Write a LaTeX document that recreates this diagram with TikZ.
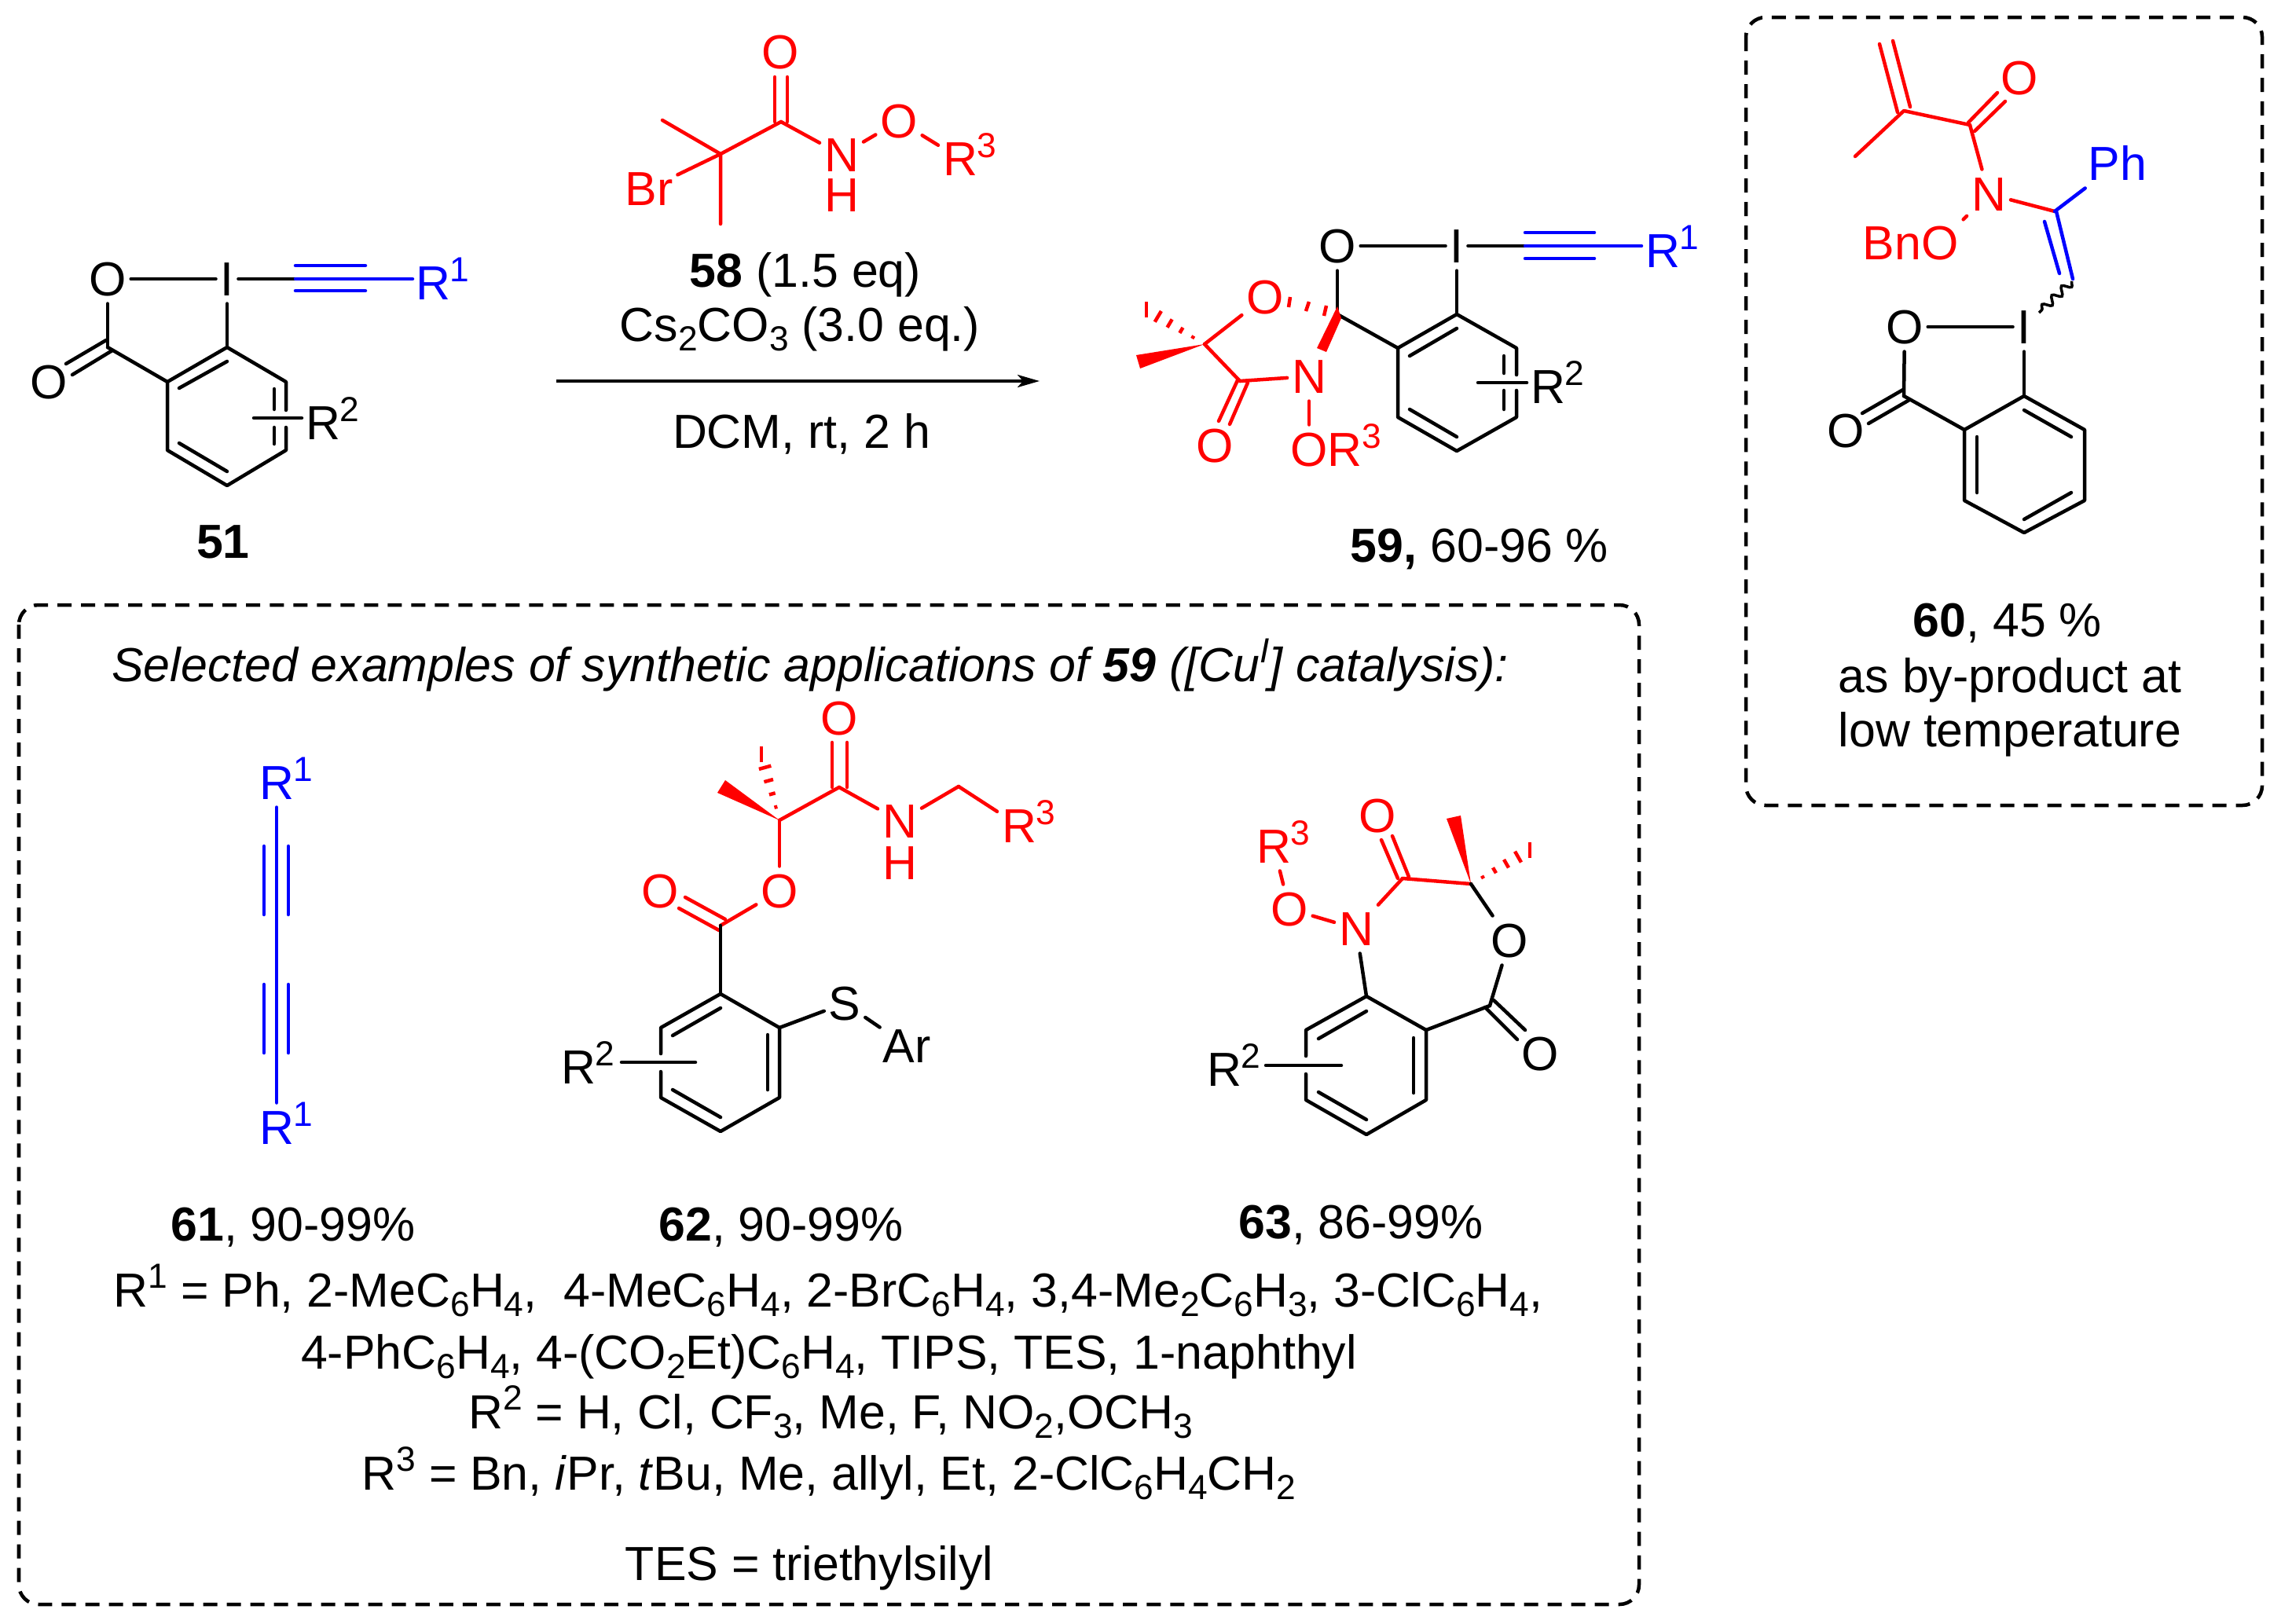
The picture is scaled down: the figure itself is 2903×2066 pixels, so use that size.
\documentclass[tikz,border=0pt]{standalone}
\usepackage{fontspec}
\setmainfont{Liberation Sans}
\usetikzlibrary{calc,arrows.meta,decorations.pathmorphing}
\newcommand\sups[1]{\raisebox{.38em}{\fontsize{12.6}{12.6}\selectfont #1}}
\newcommand\subs[1]{\raisebox{-.2em}{\fontsize{12.6}{12.6}\selectfont #1}}
\newcommand\Rn[1]{R\rlap{\sups{#1}}}
\newcommand\hashb[3]{\foreach \t in {.2,.4,.6,.8,1}{\draw[hashmark] ($(#1)!\t!(#2)!{\t*#3}!90:(#2)$) -- ($(#1)!\t!(#2)!{-\t*#3}!90:(#2)$);}}
\tikzset{
  chemtext/.style={font=\fontsize{17.3}{20}\selectfont},
  atom/.style={chemtext,anchor=center,inner xsep=.06cm,inner ysep=.10cm,text height=.43cm,text depth=0pt,outer sep=0pt},
  lbl/.style={chemtext,anchor=base,inner sep=0pt},
  bond/.style={line width=.045cm,line cap=round,line join=round},
  hashmark/.style={line width=.045cm,red},
  dbox/.style={line width=.045cm,dash pattern=on .18cm off .12cm,rounded corners=.25cm},
}
\begin{document}
\begin{tikzpicture}[x=.01cm,y=-.01cm]
\useasboundingbox (0,0) rectangle (2903,2066);
% boxes
\coordinate (b1a) at (24,770); \coordinate (b1b) at (2086,2042);
\coordinate (b2a) at (2222,22); \coordinate (b2b) at (2879,1025);
\draw[dbox] (b1a) rectangle (b1b);
\draw[dbox] (b2a) rectangle (b2b);

% ---------- 51
\node[atom] (aO) at (137,355) {O};
\node[atom] (aI) at (289,355) {I};
\node[atom] (aO2) at (62,486) {O};
\node[atom,blue] (aR1) at (551,360) {\Rn{1}};
\node[atom] (aR2) at (411,538) {\Rn{2}};
\coordinate (aC) at (137,442); \coordinate (aa) at (213,486); \coordinate (ab) at (289,442);
\coordinate (ac) at (364,486); \coordinate (ad) at (364,573); \coordinate (ae) at (289,618); \coordinate (af) at (213,573);
\coordinate (at) at (376,355); \coordinate (ag1) at (364,522); \coordinate (ag2) at (364,544);
\coordinate (al1) at (323,532); \coordinate (al2) at (384,532);
\draw[bond] (aO) -- (aI);
\draw[bond] (aI) -- (at);
\draw[bond,blue] (at) -- (525,355);
\draw[bond,blue] (376,338) -- (465,338);
\draw[bond,blue] (376,370) -- (465,370);
\draw[bond] (aO) -- (aC);
\draw[bond] (aI) -- (ab);
\draw[bond] (84,463) -- (135,433);
\draw[bond] (92,477) -- (143,446);
\draw[bond] (aC) -- (aa);
\draw[bond] (ag2) -- (ad) -- (ae) -- (af) -- (aa) -- (ab) -- (ac) -- (ag1);
\draw[bond] (228,494) -- (289,460);
\draw[bond] (349,495) -- (349,521);
\draw[bond] (349,544) -- (349,565);
\draw[bond] (228,564) -- (289,600);
\draw[bond] (al1) -- (al2);
\node[lbl] (a51) at (284,710) {\textbf{51}};

% ---------- 58 and reagents
\coordinate (bq) at (917,196); \coordinate (bm1) at (843,153); \coordinate (bm2) at (917,285);
\coordinate (bc) at (994,155);
\node[atom,red] (bBr) at (826,240) {Br};
\node[atom,red] (bO) at (993,66) {O};
\node[atom,red] (bN) at (1071,197) {N};
\node[atom,red,inner ysep=0pt] (bH) at (1071,248) {H};
\node[atom,red] (bO2) at (1144,154) {O};
\node[atom,red] (bR) at (1222,202) {\Rn{3}};
\begin{scope}[red]
\draw[bond] (bm1) -- (bq) -- (bm2);
\draw[bond] (bq) -- (bBr);
\draw[bond] (bq) -- (bc);
\draw[bond] (986,98) -- (986,155);
\draw[bond] (1002,98) -- (1002,155);
\draw[bond] (bc) -- (bN);
\draw[bond] (bN) -- (bO2);
\draw[bond] (bO2) -- (bR);
\end{scope}
\node[lbl] (t1) at (1025,365) {\textbf{58} (1.5 eq)};
\node[lbl] (t2) at (1018,434) {Cs\subs{2}CO\subs{3} (3.0 eq.)};
\node[lbl] (t3) at (1020,570) {DCM, rt, 2 h};
\coordinate (ar1) at (708,485); \coordinate (ar2) at (1323,485);
\draw[line width=.035cm,-{Stealth[length=.28cm,width=.16cm,inset=.07cm]}] (ar1) -- (ar2);

% ---------- 59
\node[atom] (cO) at (1702,313) {O};
\node[atom] (cI) at (1854,313) {I};
\node[atom,blue] (cR1) at (2116,319) {\Rn{1}};
\node[atom] (cR2) at (1970,492) {\Rn{2}};
\node[atom,red] (cO2) at (1610,378) {O};
\node[atom,red] (cN) at (1666,479) {N};
\node[atom,red] (cO3) at (1546,567) {O};
\node[atom,red] (cO4) at (1666,572) {O\rlap{\Rn{3}}};
\coordinate (cs) at (1702,400); \coordinate (cm) at (1533,438); \coordinate (cc) at (1578,485);
\coordinate (ca) at (1779,443); \coordinate (cb) at (1854,400); \coordinate (cc1) at (1930,443);
\coordinate (cd) at (1930,531); \coordinate (ce) at (1854,574); \coordinate (cf) at (1779,531);
\coordinate (ct) at (1941,313); \coordinate (cg1) at (1930,477); \coordinate (cg2) at (1930,497);
\coordinate (cl1) at (1881,487); \coordinate (cl2) at (1943,487);
\coordinate (chm) at (1459,394);
\draw[bond] (cO) -- (cI);
\draw[bond] (cI) -- (ct);
\draw[bond,blue] (ct) -- (2089,313);
\draw[bond,blue] (1941,296) -- (2029,296);
\draw[bond,blue] (1941,329) -- (2029,329);
\draw[bond] (cO) -- (cs);
\draw[bond] (cI) -- (cb);
\draw[bond] (cs) -- (ca);
\draw[bond] (cg2) -- (cd) -- (ce) -- (cf) -- (ca) -- (cb) -- (cc1) -- (cg1);
\draw[bond] (1794,453) -- (1854,418);
\draw[bond] (1914,453) -- (1914,475);
\draw[bond] (1914,497) -- (1914,521);
\draw[bond] (1794,521) -- (1854,556);
\draw[bond] (cl1) -- (cl2);
\begin{scope}[red]
\draw[bond] (cm) -- (cO2);
\draw[bond] (cm) -- (cc);
\draw[bond] (cc) -- (cN);
\draw[bond] (cN) -- (cO4);
\draw[bond] (1575,484) -- (1551,536);
\draw[bond] (1588,487) -- (1565,540);
\fill (cm) -- (1446,452) -- (1451,469) -- cycle;
\fill (1702,390) -- (1707,405) -- (1688,448) -- (1676,443) -- cycle;
\hashb{cm}{chm}{.1cm}
\draw[hashmark] (1642,378) -- (1640,391);
\draw[hashmark] (1666,384) -- (1662,396);
\draw[hashmark] (1688,389) -- (1685,402);
\end{scope}
\node[lbl] (c59) at (1883,715) {\textbf{59,} 60-96 \%};

% ---------- 60
\coordinate (dv) at (2423,141); \coordinate (dme) at (2361,199); \coordinate (dk) at (2507,159); \coordinate (dc2) at (2615,269);
\node[atom,red] (dO) at (2570,99) {O};
\node[atom,red] (dN) at (2531,247) {N};
\node[atom,red] (dO2) at (2469,309) {\llap{Bn}O};
\node[atom,blue] (dPh) at (2695,208) {Ph};
\node[atom] (dO3) at (2424,416) {O};
\node[atom] (dI) at (2576,416) {I};
\node[atom] (dO4) at (2349,548) {O};
\coordinate (dC) at (2423,504); \coordinate (da) at (2500,547); \coordinate (db) at (2576,504);
\coordinate (dc) at (2653,547); \coordinate (dd) at (2653,637); \coordinate (de) at (2576,678); \coordinate (df) at (2500,637);
\coordinate (dw1) at (2637,358); \coordinate (dw2) at (2595,398);
\begin{scope}[red]
\draw[bond] (2392,56) -- (2415,143);
\draw[bond] (2409,52) -- (2431,136);
\draw[bond] (dme) -- (dv) -- (dk);
\draw[bond] (2505,156) -- (2542,118);
\draw[bond] (2513,167) -- (2552,129);
\draw[bond] (dk) -- (dN);
\draw[bond] (dN) -- (dO2);
\draw[bond] (dN) -- (dc2);
\end{scope}
\draw[bond,blue] (dc2) -- (dPh);
\draw[bond,blue] (2617,269) -- (2638,355);
\draw[bond,blue] (2602,282) -- (2621,348);
\draw[line width=.035cm,decorate,decoration={snake,segment length=.17cm,amplitude=.05cm}] (dw1) -- (dw2);
\draw[bond] (dO3) -- (dI);
\draw[bond] (dO3) -- (dC);
\draw[bond] (dI) -- (db);
\draw[bond] (2370,526) -- (2422,496);
\draw[bond] (2378,539) -- (2430,509);
\draw[bond] (dC) -- (da);
\draw[bond] (da) -- (db) -- (dc) -- (dd) -- (de) -- (df) -- cycle;
\draw[bond] (2516,556) -- (2516,627);
\draw[bond] (2576,522) -- (2636,556);
\draw[bond] (2576,661) -- (2636,627);
\node[lbl] (d1) at (2555,810) {\textbf{60}, 45 \%};
\node[lbl] (d2) at (2558,881) {as by-product at};
\node[lbl] (d3) at (2558,950) {low temperature};

% ---------- box heading
\node[lbl] (h1) at (1031,867) {\textit{Selected examples of synthetic applications of \textbf{59} ([Cu\sups{I}] catalysis):}};

% ---------- 61
\node[atom,blue] (eR1) at (352,996) {\Rn{1}};
\node[atom,blue] (eR2) at (352,1435) {\Rn{1}};
\draw[bond,blue] (eR1) -- (eR2);
\draw[bond,blue] (336,1077) -- (336,1164);
\draw[bond,blue] (367,1077) -- (367,1164);
\draw[bond,blue] (336,1253) -- (336,1340);
\draw[bond,blue] (367,1253) -- (367,1340);
\node[lbl] (e61) at (373,1579) {\textbf{61}, 90-99\%};

% ---------- 62
\coordinate (fq) at (992,1044); \coordinate (fk) at (1068,1002); \coordinate (fch) at (1220,1001); \coordinate (fe) at (917,1178);
\coordinate (fhe) at (969,960);
\node[atom,red] (fO) at (1068,914) {O};
\node[atom,red] (fN) at (1145,1045) {N};
\node[atom,red,inner ysep=0pt] (fH) at (1145,1098) {H};
\node[atom,red] (fR) at (1297,1051) {\Rn{3}};
\node[atom,red] (fO2) at (992,1134) {O};
\node[atom,red] (fO3) at (840,1134) {O};
\node[atom] (fS) at (1075,1277) {S};
\node[atom,inner ysep=.02cm] (fAr) at (1154,1331) {Ar};
\node[atom] (fR2) at (736,1358) {\Rn{2}};
\coordinate (fb) at (917,1265); \coordinate (fc) at (992,1308); \coordinate (fd) at (992,1397);
\coordinate (fe2) at (917,1440); \coordinate (ff) at (841,1397); \coordinate (fg) at (841,1308);
\coordinate (fg1) at (841,1341); \coordinate (fg2) at (841,1364); \coordinate (fl1) at (791,1352); \coordinate (fl2) at (885,1352);
\begin{scope}[red]
\draw[bond] (fq) -- (fk);
\draw[bond] (1059,945) -- (1059,1002);
\draw[bond] (1078,945) -- (1078,1002);
\draw[bond] (fk) -- (fN);
\draw[bond] (fN) -- (fch);
\draw[bond] (fch) -- (fR);
\draw[bond] (fq) -- (fO2);
\draw[bond] (fO2) -- (fe);
\draw[bond] (872,1142) -- (923,1170);
\draw[bond] (864,1156) -- (915,1184);
\fill (fq) -- (913,1009) -- (923,993) -- cycle;
\hashb{fq}{fhe}{.1cm}
\end{scope}
\draw[bond] (fe) -- (fb);
\draw[bond] (fg2) -- (ff) -- (fe2) -- (fd) -- (fc) -- (fb) -- (fg) -- (fg1);
\draw[bond] (856,1318) -- (917,1283);
\draw[bond] (977,1317) -- (977,1387);
\draw[bond] (856,1387) -- (917,1422);
\draw[bond] (fl1) -- (fl2);
\draw[bond] (fc) -- (fS);
\draw[bond] (fS) -- (fAr);
\node[lbl] (f62) at (994,1579) {\textbf{62}, 90-99\%};

% ---------- 63
\coordinate (gk) at (1785,1118); \coordinate (gq) at (1872,1125); \coordinate (gC) at (1896,1280); \coordinate (ghe) at (1947,1082);
\node[atom,red] (gR) at (1621,1077) {\Rn{3}};
\node[atom,red] (gO) at (1641,1157) {O};
\node[atom,red] (gN) at (1726,1182) {N};
\node[atom,red] (gO2) at (1753,1038) {O};
\node[atom] (gO3) at (1921,1197) {O};
\node[atom] (gO4) at (1960,1341) {O};
\node[atom] (gR2) at (1558,1361) {\Rn{2}};
\coordinate (gb) at (1739,1268); \coordinate (gc) at (1815,1311); \coordinate (gd) at (1815,1400);
\coordinate (ge) at (1739,1444); \coordinate (gf) at (1662,1400); \coordinate (gg) at (1662,1311);
\coordinate (gg1) at (1662,1344); \coordinate (gg2) at (1662,1367); \coordinate (gl1) at (1611,1356); \coordinate (gl2) at (1707,1356);
\begin{scope}[red]
\draw[bond] (gR) -- (gO);
\draw[bond] (gO) -- (gN);
\draw[bond] (gN) -- (gk);
\draw[bond] (gk) -- (gq);
\draw[bond] (1758,1069) -- (1779,1118);
\draw[bond] (1772,1064) -- (1793,1116);
\fill (gq) -- (1841,1042) -- (1859,1038) -- cycle;
\hashb{gq}{ghe}{.1cm}
\end{scope}
\draw[bond] (gq) -- (gO3);
\draw[bond] (gO3) -- (gC);
\draw[bond] (1901,1273) -- (1941,1311);
\draw[bond] (1890,1282) -- (1931,1323);
\draw[bond] (gC) -- (gc);
\draw[bond] (gN) -- (gb);
\draw[bond] (gg2) -- (gf) -- (ge) -- (gd) -- (gc) -- (gb) -- (gg) -- (gg1);
\draw[bond] (1678,1322) -- (1739,1287);
\draw[bond] (1799,1321) -- (1799,1391);
\draw[bond] (1678,1390) -- (1739,1425);
\draw[bond] (gl1) -- (gl2);
\node[lbl] (g63) at (1732,1576) {\textbf{63}, 86-99\%};

% ---------- footnotes
\node[lbl] (n1) at (1054,1663) {R\sups{1} = Ph, 2-MeC\subs{6}H\subs{4},\ \ 4-MeC\subs{6}H\subs{4}, 2-BrC\subs{6}H\subs{4}, 3,4-Me\subs{2}C\subs{6}H\subs{3}, 3-ClC\subs{6}H\subs{4},};
\node[lbl] (n2) at (1055,1742) {4-PhC\subs{6}H\subs{4}, 4-(CO\subs{2}Et)C\subs{6}H\subs{4}, TIPS, TES, 1-naphthyl};
\node[lbl] (n3) at (1057,1818) {R\sups{2} = H, Cl, CF\subs{3}, Me, F, NO\subs{2},OCH\subs{3}};
\node[lbl] (n4) at (1055,1896) {R\sups{3} = Bn, \textit{i}Pr, \textit{t}Bu, Me, allyl, Et, 2-ClC\subs{6}H\subs{4}CH\subs{2}};
\node[lbl] (n5) at (1030,2011) {TES = triethylsilyl};
\end{tikzpicture}
\end{document}
